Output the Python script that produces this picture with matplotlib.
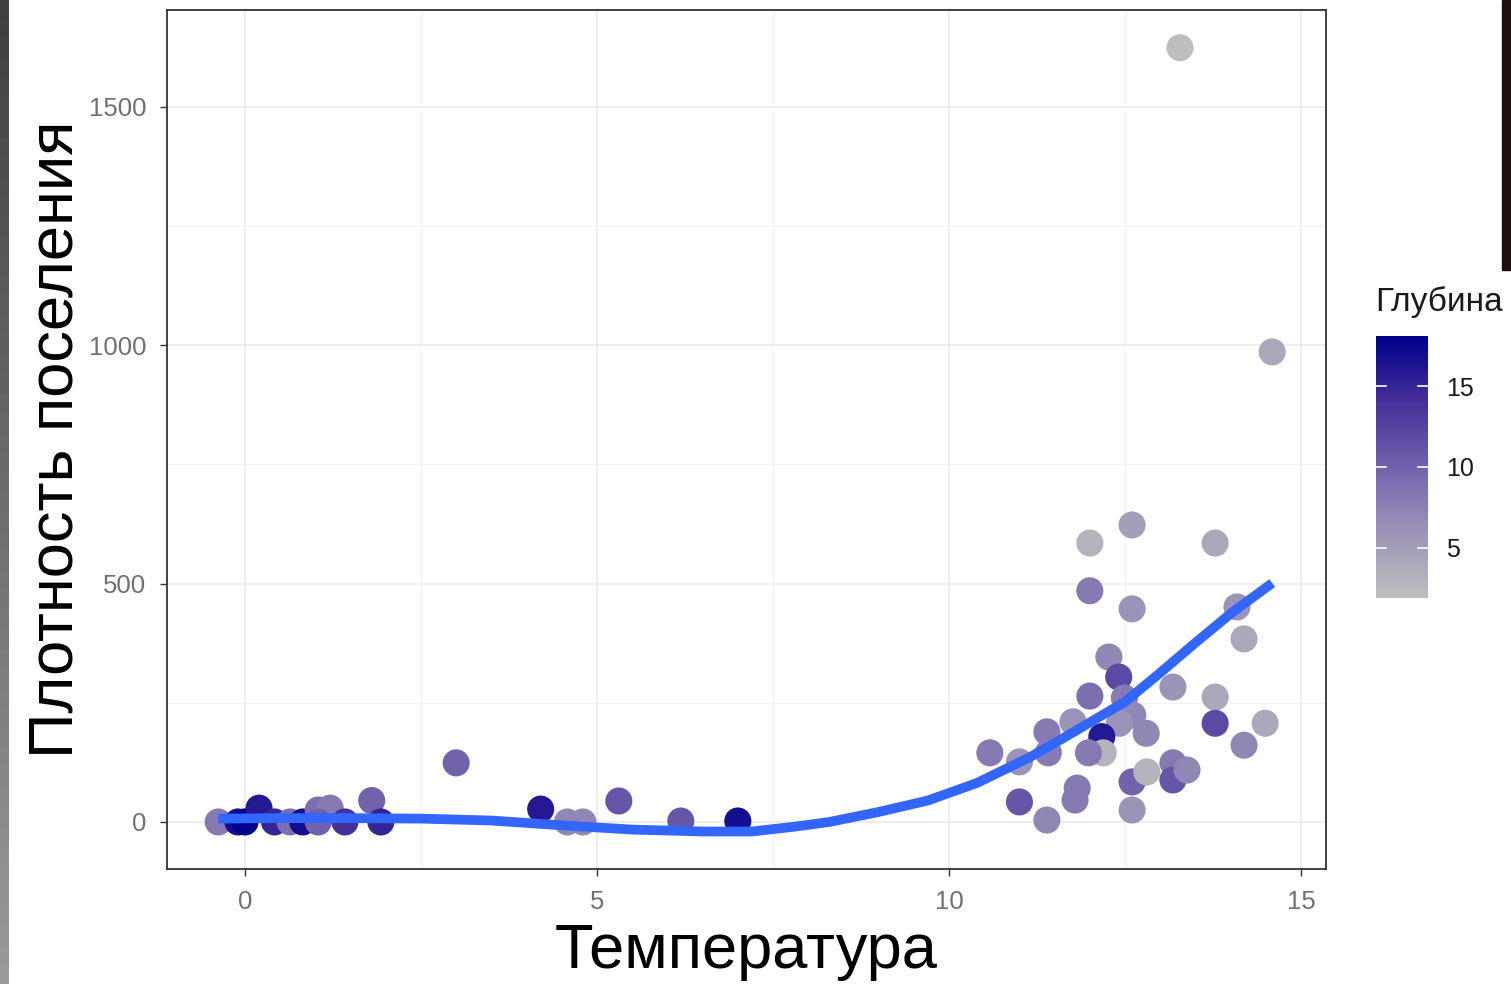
import matplotlib
matplotlib.use("Agg")
import matplotlib.pyplot as plt
import numpy as np
from matplotlib.colors import LinearSegmentedColormap, Normalize
from matplotlib.patches import Rectangle
from matplotlib.ticker import FixedLocator

plt.rcParams["font.family"] = ["Liberation Sans", "DejaVu Sans"]

# observations: temperature, settlement density, depth
temperature = [
    -0.38, -0.1, 0.0, 0.2, 0.42, 0.64, 0.82, 1.04, 1.21, 1.04, 1.42, 1.8, 1.93,
    3.0, 4.2, 4.58, 4.8, 5.31, 6.19, 7.0,
    12.6, 12.0, 13.78, 12.0, 12.6, 14.09, 14.19, 12.27, 12.41, 12.0, 13.18,
    13.78, 13.78, 14.49, 14.19, 12.49, 12.61, 12.8, 12.42, 12.17, 12.19,
    11.98, 11.76, 11.39, 11.41, 11.0, 10.58, 11.0, 11.39, 11.82, 11.79,
    12.6, 12.6, 12.81, 13.18, 13.18, 13.38, 13.28, 14.59,
]
density = [
    0, 0, 0, 29, 0, 0, 0, 25, 29, 0, 0, 45, 0,
    124, 27, 0, 0, 44, 2, 2,
    623, 585, 585, 485, 447, 451, 384, 346, 304, 264, 283,
    262, 207, 207, 161, 260, 224, 186, 207, 179, 145,
    145, 210, 189, 145, 126, 145, 42, 4, 71, 46,
    84, 25, 105, 124, 88, 109, 1624, 986,
]
depth = [
    8, 17, 18.1, 16, 15, 9, 17, 9, 8, 10, 14, 10, 15,
    10, 16, 7, 7, 11, 11, 17,
    5, 3, 4, 8, 6, 6, 4, 7, 12, 9, 6,
    4, 12, 4, 7, 8, 7, 7, 6, 16, 3,
    8, 6, 8, 8, 6, 8, 11, 7, 8, 8,
    10, 6, 3, 8, 11, 7, 1.9, 4,
]

# loess smooth
smooth_x = [-0.38, 0.5, 1.5, 2.5, 3.5, 4.5, 5.5, 6.5, 7.2, 7.8, 8.3, 9.0,
            9.7, 10.4, 11.15, 11.6, 11.9, 12.5, 13.0, 13.5, 14.0, 14.59]
smooth_y = [7, 8, 8, 7, 3, -7, -16, -20, -20, -10, 0, 21,
            45, 82, 136, 174, 200, 252, 313, 376, 437, 501]

x_ticks = [0, 5, 10, 15]
y_ticks = [0, 500, 1000, 1500]
depth_ticks = [5, 10, 15]

cmap = LinearSegmentedColormap.from_list(
    "depth", ["#BEBEBE", "#9C93B8", "#7262AC", "#46309A", "#00008B"]
)
norm = Normalize(vmin=min(depth), vmax=max(depth))

fig = plt.figure(figsize=(15.11, 9.84), dpi=100)
ax = fig.add_axes([0.1105, 0.1169, 0.7671, 0.8729])

ax.scatter(temperature, density, c=depth, cmap=cmap, norm=norm,
           s=380, linewidths=0, zorder=2)
ax.plot(smooth_x, smooth_y, color="#3366FF", lw=7, zorder=3,
        solid_capstyle="butt", solid_joinstyle="round")

ax.set_xlim(-1.108, 15.355)
ax.set_ylim(-98.6, 1703)
ax.set_xticks(x_ticks)
ax.set_yticks(y_ticks)
ax.xaxis.set_minor_locator(FixedLocator([2.5, 7.5, 12.5]))
ax.yaxis.set_minor_locator(FixedLocator([250, 750, 1250]))
ax.grid(which="major", color="#EBEBEB", lw=1.2, zorder=0)
ax.grid(which="minor", color="#F2F2F2", lw=0.8, zorder=0)
ax.set_axisbelow(True)
ax.tick_params(which="major", length=5, width=1, color="#333333",
               labelsize=18.5, labelcolor="#707070", pad=10)
ax.tick_params(which="minor", length=0)
for spine in ax.spines.values():
    spine.set_color("#333333")
    spine.set_linewidth(1.3)

ax.set_xlabel("Температура", fontsize=45.5, labelpad=6)
ax.set_ylabel("Плотность поселения", fontsize=45.5, labelpad=2)

# colour bar
cax = fig.add_axes([0.9107, 0.3923, 0.0344, 0.2663])
cb = fig.colorbar(plt.cm.ScalarMappable(norm=norm, cmap=cmap), cax=cax)
cb.outline.set_visible(False)
cb.set_ticks(depth_ticks)
cax.tick_params(length=0, labelsize=18, pad=13, labelcolor="#1a1a1a")
for t in depth_ticks:
    cax.axhline(t, xmin=0, xmax=0.2, color="white", lw=1.2)
    cax.axhline(t, xmin=0.8, xmax=1, color="white", lw=1.2)
fig.text(0.9100, 0.693, "Глубина", fontsize=24, ha="left", va="center",
         color="#1a1a1a")

# screenshot edges
edge = fig.add_axes([0, 0, 0.0055, 1])
edge.imshow(np.linspace(0.25, 0.6, 50).reshape(-1, 1), cmap="gray",
            aspect="auto", vmin=0, vmax=1)
edge.axis("off")
fig.patches.append(Rectangle((0.994, 0.726), 0.006, 0.274,
                             transform=fig.transFigure, color="#1c1010"))

fig.savefig("out.png", dpi=100)
